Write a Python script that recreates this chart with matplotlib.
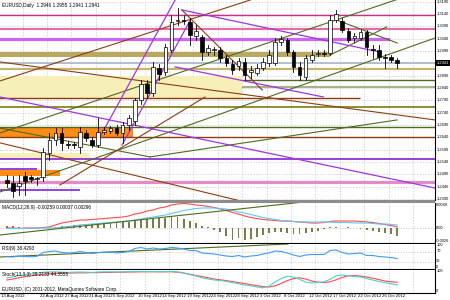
import matplotlib
matplotlib.use("Agg")
import matplotlib.pyplot as plt
import matplotlib.transforms as mtransforms
from matplotlib.patches import Rectangle

plt.rcParams["font.family"] = ["Liberation Sans Narrow", "Liberation Sans", "DejaVu Sans"]

# daily EURUSD bars, 13 Aug - 26 Oct 2012 (broker with Sunday bars)
opens = [1.2466, 1.2454, 1.2442, 1.2483, 1.2479, 1.2471, 1.2479, 1.2576, 1.2629, 1.2657,
         1.2612, 1.2612, 1.2600, 1.2657, 1.2629, 1.2608, 1.2661, 1.2665, 1.2677, 1.2657,
         1.2690, 1.2706, 1.2791, 1.2856, 1.2819, 1.2921, 1.2904, 1.2993, 1.3111, 1.3115,
         1.3107, 1.3050, 1.3046, 1.2985, 1.2993, 1.2993, 1.2961, 1.2937, 1.2929, 1.2945,
         1.2904, 1.2900, 1.2921, 1.2941, 1.2941, 1.3026, 1.3034, 1.2985, 1.2925, 1.2884,
         1.2953, 1.2977, 1.2981, 1.2981, 1.3115, 1.3111, 1.3071, 1.3042, 1.3042, 1.3066,
         1.2998, 1.2993, 1.2965, 1.2965, 1.2953]
highs = [1.2487, 1.2483, 1.2487, 1.2499, 1.2487, 1.2479, 1.2596, 1.2657, 1.2677, 1.2677,
         1.2625, 1.2621, 1.2681, 1.2669, 1.2641, 1.2718, 1.2681, 1.2686, 1.2690, 1.2702,
         1.2730, 1.2799, 1.2872, 1.2872, 1.2945, 1.2937, 1.3018, 1.3135, 1.3164, 1.3135,
         1.3123, 1.3095, 1.3054, 1.3014, 1.3006, 1.3006, 1.2973, 1.2953, 1.2961, 1.2961,
         1.2929, 1.2937, 1.2961, 1.2993, 1.3042, 1.3050, 1.3042, 1.2993, 1.2945, 1.2973,
         1.2993, 1.2993, 1.2993, 1.3135, 1.3156, 1.3123, 1.3083, 1.3062, 1.3075, 1.3075,
         1.3014, 1.3014, 1.2977, 1.2973, 1.2961]
lows = [1.2438, 1.2398, 1.2406, 1.2406, 1.2458, 1.2446, 1.2462, 1.2548, 1.2608, 1.2588,
        1.2596, 1.2596, 1.2576, 1.2625, 1.2600, 1.2600, 1.2653, 1.2657, 1.2649, 1.2617,
        1.2669, 1.2690, 1.2775, 1.2799, 1.2807, 1.2872, 1.2892, 1.2985, 1.3095, 1.3099,
        1.3014, 1.3034, 1.2953, 1.2973, 1.2973, 1.2945, 1.2929, 1.2896, 1.2912, 1.2872,
        1.2880, 1.2892, 1.2912, 1.2929, 1.2933, 1.3014, 1.2973, 1.2904, 1.2872, 1.2872,
        1.2945, 1.2969, 1.2969, 1.2973, 1.3107, 1.3066, 1.3026, 1.3026, 1.3034, 1.2973,
        1.2961, 1.2953, 1.2921, 1.2945, 1.2921]
closes = [1.2454, 1.2422, 1.2454, 1.2462, 1.2471, 1.2474, 1.2580, 1.2629, 1.2657, 1.2617,
          1.2610, 1.2608, 1.2661, 1.2637, 1.2608, 1.2661, 1.2669, 1.2677, 1.2657, 1.2690,
          1.2718, 1.2791, 1.2856, 1.2819, 1.2925, 1.2896, 1.3006, 1.3107, 1.3115, 1.3111,
          1.3054, 1.3071, 1.2985, 1.3002, 1.2998, 1.2961, 1.2941, 1.2912, 1.2949, 1.2892,
          1.2912, 1.2921, 1.2945, 1.2973, 1.3026, 1.3038, 1.2985, 1.2925, 1.2892, 1.2961,
          1.2973, 1.2981, 1.2977, 1.3115, 1.3139, 1.3075, 1.3034, 1.3050, 1.3066, 1.3006,
          1.2993, 1.2965, 1.2963, 1.2953, 1.2941]

macd_red = [0.0000, 0.0000, -0.0001, 0.0000, 0.0000, 0.0000, 0.0001, 0.0002, 0.0006, 0.0010,
            0.0012, 0.0014, 0.0016, 0.0016, 0.0017, 0.0018, 0.0019, 0.0020, 0.0021, 0.0022,
            0.0024, 0.0028, 0.0030, 0.0034, 0.0036, 0.0040, 0.0042, 0.0046, 0.0048, 0.0049,
            0.0048, 0.0046, 0.0045, 0.0043, 0.0041, 0.0038, 0.0035, 0.0031, 0.0028, 0.0024,
            0.0021, 0.0019, 0.0017, 0.0016, 0.0015, 0.0014, 0.0014, 0.0013, 0.0012, 0.0011,
            0.0010, 0.0010, 0.0011, 0.0013, 0.0014, 0.0014, 0.0014, 0.0014, 0.0013, 0.0012,
            0.0011, 0.0009, 0.0007, 0.0005, 0.0002]
macd_blue = [-0.0001, -0.0001, -0.0001, -0.0001, 0.0000, 0.0000, 0.0000, 0.0000, 0.0000, 0.0002,
             0.0003, 0.0004, 0.0006, 0.0007, 0.0008, 0.0009, 0.0010, 0.0011, 0.0012, 0.0013,
             0.0014, 0.0016, 0.0018, 0.0020, 0.0022, 0.0024, 0.0026, 0.0029, 0.0032, 0.0035,
             0.0037, 0.0039, 0.0040, 0.0040, 0.0040, 0.0039, 0.0038, 0.0035, 0.0032, 0.0030,
             0.0027, 0.0024, 0.0021, 0.0019, 0.0017, 0.0015, 0.0014, 0.0013, 0.0012, 0.0012,
             0.0012, 0.0012, 0.0012, 0.0012, 0.0011, 0.0011, 0.0011, 0.0010, 0.0010, 0.0010,
             0.0009, 0.0008, 0.0008, 0.0007, 0.0006]
macd_hist = [0.0005, 0.0004, 0.0002, 0.0001, 0.0001, 0.0001, 0.0002, 0.0002, 0.0002, 0.0004,
             0.0004, 0.0006, 0.0006, 0.0008, 0.0008, 0.0009, 0.0010, 0.0010, 0.0011, 0.0012,
             0.0012, 0.0016, 0.0017, 0.0018, 0.0019, 0.0020, 0.0021, 0.0022, 0.0022, 0.0018,
             0.0014, 0.0010, 0.0004, 0.0002, -0.0004, -0.0008, -0.0016, -0.0024, -0.0020, -0.0024,
             -0.0022, -0.0018, -0.0014, -0.0010, -0.0008, -0.0008, -0.0010, -0.0012, -0.0012, -0.0010,
             -0.0008, -0.0006, -0.0002, 0.0002, 0.0002, 0.0001, 0.0003, 0.0001, -0.0002, -0.0004,
             -0.0006, -0.0008, -0.0010, -0.0012, -0.0016]

rsi = [50, 48, 52, 50, 49, 51, 66, 70, 72, 66,
       64, 65, 70, 66, 62, 66, 67, 68, 64, 66,
       70, 82, 86, 80, 84, 80, 82, 86, 84, 80,
       74, 74, 64, 62, 60, 56, 52, 50, 54, 48,
       52, 54, 60, 64, 72, 70, 64, 56, 50, 56,
       58, 58, 58, 74, 76, 66, 60, 62, 64, 54,
       54, 50, 48, 46, 42]

stoch_main = [66, 70, 78, 82, 86, 90, 94, 95, 96, 94,
              93, 94, 95, 94, 93, 95, 96, 96, 95, 96,
              97, 98, 98, 97, 98, 96, 97, 98, 96, 90,
              82, 75, 66, 60, 55, 52, 48, 42, 36, 30,
              26, 20, 16, 24, 45, 62, 74, 70, 58, 45,
              40, 42, 46, 58, 76, 80, 76, 72, 70, 62,
              55, 48, 42, 36, 30]
stoch_signal = [55, 60, 66, 72, 76, 80, 84, 86, 88, 89,
                90, 90, 91, 91, 92, 92, 93, 93, 94, 94,
                95, 95, 96, 96, 96, 96, 96, 96, 94, 90,
                84, 78, 72, 66, 60, 56, 52, 47, 42, 37,
                32, 27, 22, 20, 26, 38, 52, 62, 66, 60,
                50, 44, 42, 46, 56, 68, 76, 77, 74, 70,
                64, 57, 50, 46, 44]

# first label sits at the left edge, the rest every 4 bars from 22 Aug
date_labels = ["13 Aug 2012", "22 Aug 2012", "27 Aug 2012", "31 Aug 2012",
               "5 Sep 2012", "10 Sep 2012", "14 Sep 2012", "19 Sep 2012", "24 Sep 2012",
               "28 Sep 2012", "3 Oct 2012", "8 Oct 2012", "12 Oct 2012", "17 Oct 2012",
               "22 Oct 2012", "26 Oct 2012"]
price_ticks = [1.3190, 1.3140, 1.3090, 1.3040, 1.2990, 1.2940, 1.2890, 1.2840, 1.2790,
               1.2740, 1.2690, 1.2640, 1.2590, 1.2540, 1.2490, 1.2440, 1.2390]
last_price = 1.2941

# horizontal objects: (price, first bar, last bar)
magenta_level = (1.3137, -2, 71)
pink_level = (1.3080, -2, 71)
violet_level = (1.3040, -2, 62.8)
bid_level = (1.2941, -2, 71)
khaki_level = (1.2917, -2, 71)
olive_dark_levels = [(1.2872, 38.5, 71), (1.2681, -2, 71)]
olive_grey_level = (1.2844, 38.5, 71)
olive_level = (1.2763, -2, 71)
brown_levels = [(1.2799, -2, 57.9), (1.2641, -2, 71)]
purple_levels = [(1.2552, -2, 71), (1.2511, -2, 5.0), (1.2426, -2, 12.0)]
pink_low_level = (1.2458, -2, 71)

# zones: (price low, price high, first bar, last bar)
khaki_zone = (1.2965, 1.2985, -2, 53.0)
pale_zones = [(1.2799, 1.2888, -2, 38.6), (1.2552, 1.2576, -2, 13.7)]
orange_zones = [(1.2641, 1.2681, -2, 20.7), (1.2483, 1.2507, -2, 8.7)]

# trend lines: (bar a, price a, bar b, price b)
olive_trends = [(-1.1, 1.2657, 70.2, 1.3250), (-1.1, 1.2418, 70.2, 1.3042),
                (-1.1, 1.2677, 23.5, 1.2560), (23.5, 1.2560, 64.0, 1.2710),
                (54.1, 1.3115, 64.0, 1.3022), (53.0, 1.2973, 62.3, 1.3087)]
brown_trends = [(-1.1, 1.2945, 70.2, 1.2710), (-1.1, 1.2868, 39.9, 1.3196),
                (-1.1, 1.2617, 39.1, 1.2377), (8.7, 1.2446, 32.5, 1.2803),
                (28.7, 1.3156, 41.9, 1.2831)]
purple_trends = [(-1.1, 1.2803, 70.2, 1.2434), (28.7, 1.3156, 61.2, 1.2985),
                 (15.3, 1.2641, 27.6, 1.3196), (18.9, 1.2608, 30.1, 1.3115),
                 (27.6, 1.2925, 51.9, 1.2803)]
macd_trend = (-1.1, -0.0014, 51.7, 0.0056)
rsi_trend = (-1.1, 48, 46.1, 100)

XLIM = (-1.1, 70.2)
GRID = dict(color="#c4c4cc", lw=0.5, ls=(0, (2, 2)), zorder=0)
FS = 3.4
FS_AXIS = 2.9


def panel(fig, top_px, bottom_px):
    ax = fig.add_axes([0, 1 - bottom_px / 300, 435 / 450, (bottom_px - top_px) / 300])
    ax.set_xlim(*XLIM)
    ax.set_xticks([])
    ax.set_yticks([])
    for side in ("left", "top"):
        ax.spines[side].set_visible(False)
    for side in ("right", "bottom"):
        ax.spines[side].set_color("black")
        ax.spines[side].set_linewidth(0.8)
    for m in range(18):
        ax.axvline(2.6 + 4 * m, **GRID)
    return ax


def right_label(ax, y, txt):
    tr = mtransforms.blended_transform_factory(ax.transAxes, ax.transData)
    ax.text(1.003, y, txt, transform=tr, fontsize=FS_AXIS, va="center", ha="left", clip_on=False)


def hline(ax, level, color, lw, z=2):
    p, a, b = level
    ax.plot([a, b], [p, p], color=color, lw=lw, solid_capstyle="butt", zorder=z)


def zone(ax, z, color):
    lo, hi, a, b = z
    ax.add_patch(Rectangle((a, lo), b - a, hi - lo, facecolor=color, edgecolor="none", zorder=1))


fig = plt.figure(figsize=(4.5, 3), dpi=100)
fig.patch.set_facecolor("white")

# ---- main price window
ax = panel(fig, 0, 200)
ax.set_ylim(1.23854, 1.31962)
ax.spines["bottom"].set_visible(False)
for p in price_ticks:
    ax.axhline(p, **GRID)
    if abs(p - last_price) > 0.0015:
        right_label(ax, p, f"{p:.4f}")

zone(ax, khaki_zone, "#b9a960")
for z in pale_zones:
    zone(ax, z, "#f6efb8")
for z in orange_zones:
    zone(ax, z, "#ff8c14")

hline(ax, magenta_level, "#cc2f8a", 1.0)
hline(ax, pink_level, "#ea6aa8", 1.5)
hline(ax, violet_level, "#cc66ee", 2.3)
hline(ax, bid_level, "#a9b5c6", 1.2)
hline(ax, khaki_level, "#c4b46c", 1.6)
for lv in olive_dark_levels:
    hline(ax, lv, "#4f6a1e", 1.0)
hline(ax, olive_grey_level, "#a8b08e", 1.5)
hline(ax, olive_level, "#7d7d0c", 1.2)
for lv in brown_levels:
    hline(ax, lv, "#8b3d12", 1.0)
for lv in purple_levels:
    hline(ax, lv, "#8420d8", 1.2)
hline(ax, pink_low_level, "#e38bc6", 2.3)

for a, pa, b, pb in olive_trends:
    ax.plot([a, b], [pa, pb], color="#4f6a1e", lw=0.8, zorder=3)
for a, pa, b, pb in brown_trends:
    ax.plot([a, b], [pa, pb], color="#8b3d12", lw=0.8, zorder=3)
for a, pa, b, pb in purple_trends:
    ax.plot([a, b], [pa, pb], color="#a035e0", lw=0.9, zorder=3)

for i, (o, h, l, c) in enumerate(zip(opens, highs, lows, closes)):
    ax.plot([i, i], [l, h], color="black", lw=0.6, zorder=4)
    ax.add_patch(Rectangle((i - 0.3, min(o, c)), 0.6, max(abs(c - o), 0.00006),
                           facecolor="white" if c >= o else "black",
                           edgecolor="black", lw=0.5, zorder=5))

tr = mtransforms.blended_transform_factory(ax.transAxes, ax.transData)
ax.add_patch(Rectangle((1.001, last_price - 0.0012), 0.04, 0.0024, transform=tr,
                       facecolor="black", edgecolor="none", clip_on=False, zorder=6))
ax.text(1.003, last_price, f"{last_price:.4f}", transform=tr, fontsize=FS_AXIS, color="white",
        va="center", ha="left", clip_on=False, zorder=7)
ax.text(0.005, 0.985, "EURUSD,Daily  1.2946 1.2955 1.2941 1.2941", transform=ax.transAxes,
        fontsize=FS, va="top", ha="left", zorder=8)

# grey separator under the main window
fig.add_artist(Rectangle((0, 1 - 203 / 300), 435 / 450, 3 / 300, transform=fig.transFigure,
                         facecolor="#8c8c8c", edgecolor="none"))

# ---- MACD window
am = panel(fig, 203, 243)
am.set_ylim(-0.0030, 0.0050)
am.axhline(0, **GRID)
am.bar(range(len(macd_hist)), macd_hist, width=0.3, color="#7b7b4b", zorder=2)
am.plot(range(len(macd_red)), macd_red, color="#ff4a4a", lw=0.8, zorder=3)
am.plot(range(len(macd_blue)), macd_blue, color="#5cc8f5", lw=0.8, zorder=3)
a, pa, b, pb = macd_trend
am.plot([a, b], [pa, pb], color="#4f6a1e", lw=0.8, zorder=3)
am.text(0.005, 0.95, "MACD(12,26,9) -0.00259 0.00037 0.00296", transform=am.transAxes,
        fontsize=FS, va="top", ha="left")
right_label(am, 0.0046, "0.0049")
right_label(am, 0.0, "0.00")
right_label(am, -0.0025, "-0.0026")

# ---- RSI window
ar = panel(fig, 244, 269)
ar.set_ylim(0, 100)
for lv in (70, 30):
    ar.axhline(lv, **GRID)
ar.plot(range(len(rsi)), rsi, color="#3d9bff", lw=0.8, zorder=3)
a, pa, b, pb = rsi_trend
ar.plot([a, b], [pa, pb], color="#4f6a1e", lw=0.8, zorder=2)
ar.text(0.005, 0.93, "RSI(9) 38.4293", transform=ar.transAxes, fontsize=FS, va="top", ha="left")
for lv, txt in ((96, "100"), (70, "70"), (30, "30"), (6, "0")):
    right_label(ar, lv, txt)

# ---- Stochastic window
ast = panel(fig, 270, 293)
ast.set_ylim(-10, 105)
ast.plot(range(len(stoch_signal)), stoch_signal, color="#ff4a4a", lw=0.8, zorder=3)
ast.plot(range(len(stoch_main)), stoch_main, color="#4fd0d0", lw=0.8, zorder=3)
ast.text(0.005, 0.93, "Stoch(13,3,3) 29.2133 44.3555", transform=ast.transAxes,
         fontsize=FS, va="top", ha="left")
ast.text(0.005, 0.04, "EURUSD, (C) 2001-2012, MetaQuotes Software Corp.", transform=ast.transAxes,
         fontsize=FS, va="bottom", ha="left")
right_label(ast, 98, "100")
right_label(ast, 0, "0")

# ---- date axis
trd = mtransforms.blended_transform_factory(ast.transData, fig.transFigure)
for k, lab in enumerate(date_labels):
    x = XLIM[0] + 0.1 if k == 0 else 4 * (k + 1) - 2.5
    ast.text(x, 1 - 296 / 300, lab, transform=trd, fontsize=3.1, va="center", ha="left",
             clip_on=False)

fig.savefig("out.png", dpi=100)
